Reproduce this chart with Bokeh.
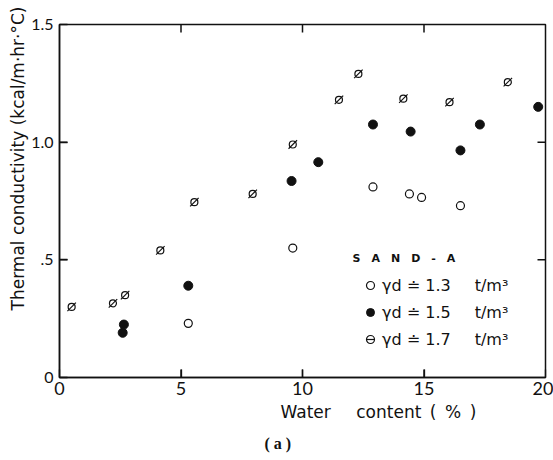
import math
from bokeh.plotting import figure
from bokeh.models import (Range1d, LinearAxis, FixedTicker, Label, Legend, LegendItem, Title,
                          ColumnDataSource)
from bokeh.embed import file_html
from bokeh.resources import INLINE

# ---- data ----
w13 = [5.3, 9.6, 12.9, 14.4, 14.9, 16.5]
k13 = [0.23, 0.55, 0.81, 0.78, 0.765, 0.73]
w15 = [2.6, 2.65, 5.3, 9.55, 10.65, 12.9, 14.45, 16.5, 17.3, 19.7]
k15 = [0.19, 0.225, 0.39, 0.835, 0.915, 1.075, 1.045, 0.965, 1.075, 1.15]
w17 = [0.5, 2.2, 2.7, 4.15, 5.55, 7.95, 9.6, 11.5, 12.3, 14.15, 16.05, 18.45]
k17 = [0.30, 0.315, 0.35, 0.54, 0.745, 0.78, 0.99, 1.18, 1.29, 1.185, 1.17, 1.255]
x_ticks = [0, 5, 10, 15, 20]
y_ticks = [0, 0.5, 1.0, 1.5]
y_tick_labels = ["0", ".5", "1.0", "1.5"]
EM, EN = "\u2003", "\u2002"
series_labels = ["\u03b3d \u2250 1.3" + EM + EN + "t/m\u00b3",
                 "\u03b3d \u2250 1.5" + EM + EN + "t/m\u00b3",
                 "\u03b3d \u2250 1.7" + EM + EN + "t/m\u00b3"]
legend_title = EM.join(["S", "A", "N", "D", "-", "A"])
x_label = "Water" + EM + EN + "content" + EN + "(" + EN + "%" + EN + ")"
y_label = EN * 10 + "Thermal conductivity (kcal/m\u00b7hr\u00b7\u00b0C)"
caption = "( a )"

TICK_FONT = "Lato"
FONT = "DejaVu Sans"
INK = "#111111"

X0, X1 = x_ticks[0], x_ticks[-1]
Y0, Y1 = y_ticks[0], y_ticks[-1]
FRAME_W, FRAME_H = 486, 353
TICK_PX = 8

p = figure(width=553, height=460, output_backend="svg", toolbar_location=None,
           x_range=Range1d(X0, X1), y_range=Range1d(Y0, Y1),
           x_axis_location=None, y_axis_location=None,
           min_border_left=59, min_border_right=8, min_border_top=24, min_border_bottom=83)
p.grid.visible = False
p.outline_line_color = INK
p.outline_line_width = 1.5
p.background_fill_color = "white"
p.border_fill_color = "white"


def make_axis(ticks, overrides=None, size="17px"):
    ax = LinearAxis(ticker=FixedTicker(ticks=ticks))
    ax.major_tick_in = TICK_PX
    ax.major_tick_out = 0
    ax.minor_tick_in = 0
    ax.minor_tick_out = 0
    ax.axis_line_color = INK
    ax.axis_line_width = 1.5
    ax.major_tick_line_color = INK
    ax.major_tick_line_width = 1.3
    ax.major_label_text_font = TICK_FONT
    ax.major_label_text_font_size = size
    ax.major_label_text_color = INK
    if overrides:
        ax.major_label_overrides = overrides
    return ax


bx = make_axis(x_ticks, size="18px")
bx.major_label_standoff = 4
lx = make_axis(y_ticks, {t: s for t, s in zip(y_ticks, y_tick_labels)}, size="16px")
lx.major_label_standoff = 6
lx.axis_label = y_label
lx.axis_label_text_font = FONT
lx.axis_label_text_font_size = "17px"
lx.axis_label_text_font_style = "normal"
lx.axis_label_text_color = INK
lx.axis_label_standoff = 0
p.add_layout(bx, "below")
p.add_layout(lx, "left")

# ---- data marks ----
r13 = p.scatter(w13, k13, marker="circle", size=8, fill_color="white",
                line_color=INK, line_width=1.2)
r15 = p.scatter(w15, k15, marker="circle", size=9, fill_color=INK,
                line_color=INK, line_width=1)
r17a = p.scatter(w17, k17, marker="circle", size=7, fill_color="white",
                 line_color=INK, line_width=1.2)
r17b = p.scatter(w17, k17, marker="dash", size=12, angle=math.pi / 4,
                 line_color=INK, line_width=1.2)

# ---- inner tick marks on all four edges as thin filled bars inside the frame ----
dy = TICK_PX * (Y1 - Y0) / FRAME_H
dx = TICK_PX * (X1 - X0) / FRAME_W
xt = x_ticks[1:-1]
yt = y_ticks[1:-1]
vt = ColumnDataSource(dict(x=xt + xt, y=[Y1 - dy / 2] * len(xt) + [Y0 + dy / 2] * len(xt)))
ht = ColumnDataSource(dict(x=[X1 - dx / 2] * len(yt) + [X0 + dx / 2] * len(yt), y=yt + yt))
p.rect(x="x", y="y", width=1.5, height=TICK_PX, width_units="screen", height_units="screen",
       source=vt, fill_color=INK, line_color=None)
p.rect(x="x", y="y", width=TICK_PX, height=1.5, width_units="screen", height_units="screen",
       source=ht, fill_color=INK, line_color=None)

legend = Legend(items=[
    LegendItem(label=series_labels[0], renderers=[r13]),
    LegendItem(label=series_labels[1], renderers=[r15]),
    LegendItem(label=series_labels[2], renderers=[r17a, r17b]),
], location=(301, 28))
legend.border_line_color = None
legend.background_fill_alpha = 0
legend.padding = 0
legend.margin = 0
legend.spacing = 7
legend.glyph_width = 20
legend.glyph_height = 20
legend.label_height = 20
legend.label_standoff = 2
legend.label_text_font = FONT
legend.label_text_font_size = "16px"
legend.label_text_color = INK
p.add_layout(legend, "center")

p.add_layout(Label(x=352 - 59, y=377 - 258, x_units="screen", y_units="screen",
                   text=legend_title, text_align="left", text_baseline="middle",
                   text_font=FONT, text_font_size="11px", text_font_style="bold",
                   text_color=INK))

tx = Title(text=x_label, align="left", offset=221, standoff=4,
           text_font=FONT, text_font_size="17px", text_font_style="normal",
           text_color=INK)
ta = Title(text=caption, align="left", offset=205, standoff=18,
           text_font="Liberation Serif", text_font_size="16px", text_font_style="bold",
           text_color=INK)
p.add_layout(tx, "below")
p.add_layout(ta, "below")

open("out.html", "w").write(file_html(p, INLINE))
